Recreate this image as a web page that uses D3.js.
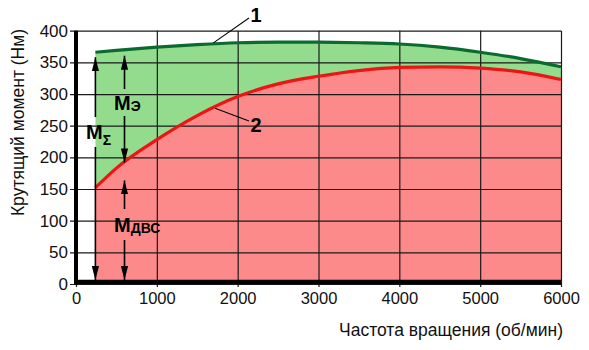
<!DOCTYPE html>
<html>
<head>
<meta charset="utf-8">
<script src="https://cdn.jsdelivr.net/npm/d3@7"></script>
<style>
  body { margin: 0; background: #fff; }
  svg { display: block; font-family: "Liberation Sans", Arial, sans-serif; }
</style>
</head>
<body>
<svg id="chart" width="589" height="350"></svg>
<script>
// Engine speed (rpm) and torque curves (N·m)
const rpm         = [240, 500, 1000, 1500, 2000, 2500, 3000, 3500, 4000, 4500, 5000, 5500, 6000];
const totalTorque = [366, 369, 374, 378, 381, 382, 382, 381, 379, 374, 366, 356, 343]; // curve 1: ICE + electric motor
const iceTorque   = [152, 183, 228, 266, 296, 316, 328, 337, 342, 343, 341, 335, 323]; // curve 2: ICE only
const xTicks = [0, 1000, 2000, 3000, 4000, 5000, 6000];
const yTicks = [0, 50, 100, 150, 200, 250, 300, 350, 400];
const xTitle = "Частота вращения (об/мин)";
const yTitle = "Крутящий момент (Нм)";

const svg = d3.select("#chart");
const x = d3.scaleLinear().domain([0, 6000]).range([76, 561]);
const y = d3.scaleLinear().domain([0, 400]).range([284, 30.7]);

const totalAt = d3.scaleLinear().domain(rpm).range(totalTorque);
const iceAt   = d3.scaleLinear().domain(rpm).range(iceTorque);

const pts = (vals) => rpm.map((r, i) => [r, vals[i]]);
const area = d3.area().x(d => x(d[0])).y0(y(0)).y1(d => y(d[1])).curve(d3.curveMonotoneX);
const line = d3.line().x(d => x(d[0])).y(d => y(d[1])).curve(d3.curveMonotoneX);

// filled regions
svg.append("path").attr("d", area(pts(totalTorque))).attr("fill", "#94dc8d");
svg.append("path").attr("d", area(pts(iceTorque))).attr("fill", "#fd8a8a");

// grid via axes
const plotW = x(6000) - x(0);
const plotH = y(0) - y(400);

const gy = svg.append("g")
  .attr("transform", `translate(${x(0) - 6},0)`)
  .call(d3.axisLeft(y).tickValues(yTicks).tickSize(-(plotW + 6)).tickSizeOuter(0).tickPadding(2));
gy.select(".domain").remove();
gy.selectAll(".tick line").attr("stroke", "#1a1a1a").attr("stroke-width", 1.2);
gy.selectAll(".tick text").attr("font-size", 17).attr("fill", "#111").attr("font-family", "Liberation Sans, Arial, sans-serif");

const gx = svg.append("g")
  .attr("transform", `translate(0,${y(0) + 3})`)
  .call(d3.axisBottom(x).tickValues(xTicks).tickFormat(d3.format("d")).tickSize(-(plotH + 3)).tickSizeOuter(0).tickPadding(5));
gx.select(".domain").remove();
gx.selectAll(".tick line").attr("stroke", "#1a1a1a").attr("stroke-width", 1.2);
gx.selectAll(".tick text").attr("font-size", 16.5).attr("fill", "#111").attr("font-family", "Liberation Sans, Arial, sans-serif");

// curves
svg.append("path").attr("d", line(pts(iceTorque))).attr("fill", "none")
  .attr("stroke", "#ee1414").attr("stroke-width", 3.2);
svg.append("path").attr("d", line(pts(totalTorque))).attr("fill", "none")
  .attr("stroke", "#0b6a2f").attr("stroke-width", 3.2);

// thick axis lines
svg.append("line").attr("x1", x(0)).attr("x2", x(0)).attr("y1", y(400)).attr("y2", y(0) + 0.3)
  .attr("stroke", "#000").attr("stroke-width", 4);
svg.append("line").attr("x1", x(0) - 2).attr("x2", x(6000)).attr("y1", y(0) - 2).attr("y2", y(0) - 2)
  .attr("stroke", "#000").attr("stroke-width", 4.5);

// arrowheads
const defs = svg.append("defs");
defs.append("marker").attr("id", "tip")
  .attr("viewBox", "0 -4 14 8").attr("refX", 14).attr("refY", 0)
  .attr("markerWidth", 14).attr("markerHeight", 8).attr("markerUnits", "userSpaceOnUse")
  .attr("orient", "auto-start-reverse")
  .append("path").attr("d", "M0,-3.6L14,0L0,3.6Z").attr("fill", "#000");

function seg(xp, yFrom, yTo, startTip, endTip) {
  const l = svg.append("line").attr("x1", xp).attr("x2", xp).attr("y1", yFrom).attr("y2", yTo)
    .attr("stroke", "#000").attr("stroke-width", 1.6);
  if (startTip) l.attr("marker-start", "url(#tip)");
  if (endTip) l.attr("marker-end", "url(#tip)");
}

// M_sum: full torque at the lowest speed
const xa = x(rpm[0]);
seg(xa, y(totalTorque[0]) + 5, 117, true, false);
seg(xa, 147, y(0) - 4, false, true);

// M_e and M_ice at 600 rpm
const rB = 600;
const xb = x(rB);
seg(xb, y(totalAt(rB)) + 6, 89, true, false);
seg(xb, 116, y(iceAt(rB)), false, true);
seg(xb, y(iceAt(rB)) + 18, 209, true, false);
seg(xb, 240, y(0) - 4, false, true);

function mLabel(xp, yb, sub, subSize, subDy) {
  const t = svg.append("text").attr("x", xp).attr("y", yb)
    .attr("font-weight", "bold").attr("font-size", 20).attr("fill", "#000");
  t.append("tspan").text("M");
  t.append("tspan").attr("font-size", subSize).attr("dy", subDy).text(sub);
}
mLabel(86, 138.5, "Σ", 14, 6);
mLabel(114, 109.5, "Э", 14, 1);
mLabel(114, 231.5, "ДВС", 14, 1.5);

// curve numbers with leader lines
const r1 = 1700, r2 = 1720;
svg.append("line").attr("x1", x(r1)).attr("y1", y(totalAt(r1)) - 1).attr("x2", 249).attr("y2", 18)
  .attr("stroke", "#000").attr("stroke-width", 1.1);
svg.append("line").attr("x1", x(r2)).attr("y1", y(iceAt(r2)) + 1).attr("x2", 249).attr("y2", 121)
  .attr("stroke", "#000").attr("stroke-width", 1.1);
svg.append("text").attr("x", 256).attr("y", 22).attr("text-anchor", "middle")
  .attr("font-weight", "bold").attr("font-size", 20).text("1");
svg.append("text").attr("x", 256).attr("y", 131.5).attr("text-anchor", "middle")
  .attr("font-weight", "bold").attr("font-size", 20).text("2");

// axis titles
svg.append("text").attr("x", 563).attr("y", 336).attr("text-anchor", "end")
  .attr("font-size", 17.5).attr("fill", "#111").text(xTitle);
svg.append("text").attr("transform", "translate(24,122.5) rotate(-90)").attr("text-anchor", "middle")
  .attr("font-size", 17.5).attr("fill", "#111").text(yTitle);
</script>
</body>
</html>
